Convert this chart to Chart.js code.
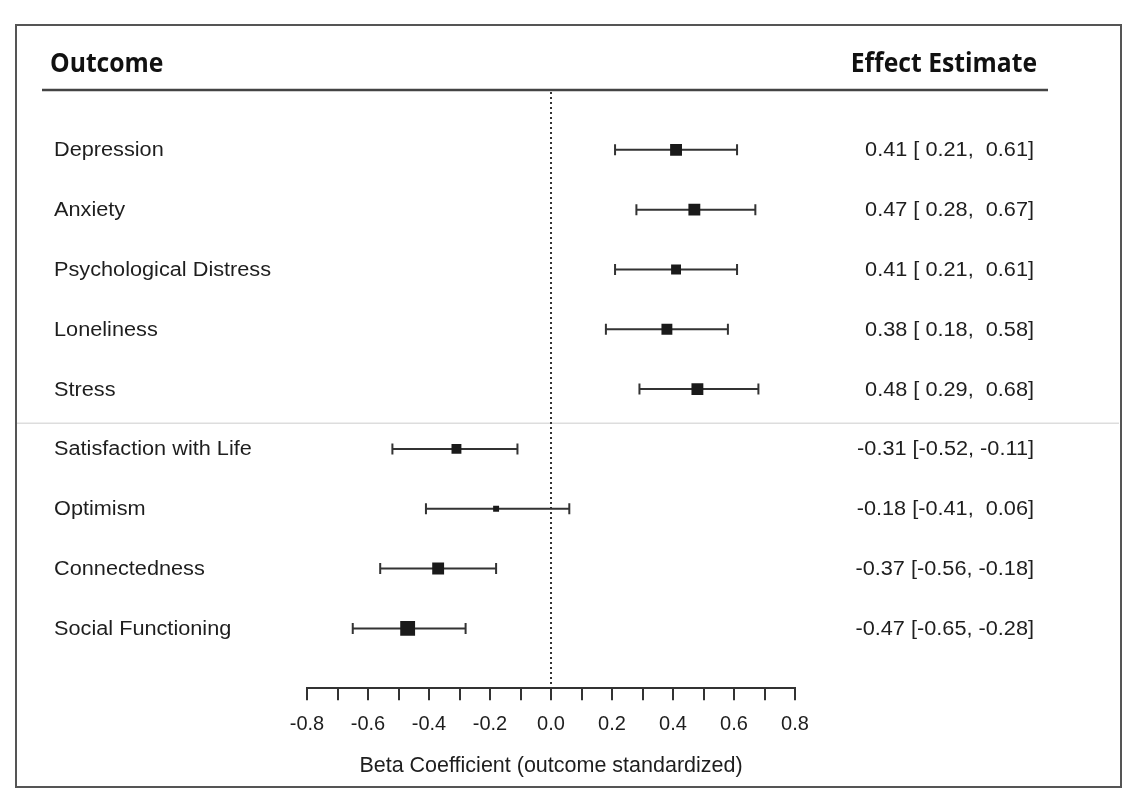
<!DOCTYPE html>
<html>
<head>
<meta charset="utf-8">
<script src="https://cdn.jsdelivr.net/npm/chart.js@4.4.1/dist/chart.umd.min.js"></script>
<style>
  html, body { margin: 0; padding: 0; background: #fff; }
  #wrap { position: relative; width: 1141px; height: 810px; }
  #frame { position: absolute; left: 15px; top: 24px; width: 1103px; height: 760px; border: 2px solid #555; pointer-events: none; }
  canvas { position: absolute; left: 0; top: 0; }
</style>
</head>
<body>
<div id="wrap">
  <canvas id="forest" width="1141" height="810"></canvas>
  <div id="frame"></div>
</div>
<script>
var outcomes = ["Depression", "Anxiety", "Psychological Distress", "Loneliness", "Stress",
                "Satisfaction with Life", "Optimism", "Connectedness", "Social Functioning"]
var estimate = [0.41, 0.47, 0.41, 0.38, 0.48, -0.31, -0.18, -0.37, -0.47]
var lower    = [0.21, 0.28, 0.21, 0.18, 0.29, -0.52, -0.41, -0.56, -0.65]
var upper    = [0.61, 0.67, 0.61, 0.58, 0.68, -0.11, 0.06, -0.18, -0.28]
// relative study weight, drives the box size
var weight   = [12, 12, 10, 11, 12, 10, 6, 12, 15]
var xTicks   = [-0.8, -0.6, -0.4, -0.2, 0.0, 0.2, 0.4, 0.6, 0.8]

var ink = "#1e1e1e"
var sans = "'Liberation Sans', Arial, sans-serif"
var labelFont = "20px " + sans
var headFont = "bold 26px 'Open Sans', sans-serif"

function pad5(v) {
  var s = v.toFixed(2)
  while (s.length < 5) s = " " + s
  return s
}

// text drawn a little wider than the font, like the source image
function wideText(ctx, txt, x, y, sx) {
  ctx.save()
  ctx.translate(x, y)
  ctx.scale(sx, 1)
  ctx.fillText(txt, 0, 0)
  ctx.restore()
}

var points = []
for (var i = 0; i < outcomes.length; i++) {
  points.push({ x: estimate[i], y: i + 1 })
}

var forestPlugin = {
  id: "forest",
  beforeDatasetsDraw: function(chart) {
    var ctx = chart.ctx
    var xs = chart.scales.x, ys = chart.scales.y
    var area = chart.chartArea
    ctx.save()

    // header
    ctx.fillStyle = "#111"
    ctx.font = headFont
    ctx.textBaseline = "alphabetic"
    ctx.textAlign = "left"
    wideText(ctx, "Outcome", 50, 72, 0.95)
    ctx.textAlign = "right"
    wideText(ctx, "Effect Estimate", 1037, 72, 0.95)
    ctx.strokeStyle = "#444"
    ctx.lineWidth = 2.5
    ctx.beginPath()
    ctx.moveTo(42, 90)
    ctx.lineTo(1048, 90)
    ctx.stroke()

    // separator between the two outcome groups
    var sepY = ys.getPixelForValue(5.57)
    ctx.strokeStyle = "#ddd"
    ctx.lineWidth = 1.5
    ctx.beginPath()
    ctx.moveTo(16, sepY)
    ctx.lineTo(1119, sepY)
    ctx.stroke()

    // null line
    var x0 = xs.getPixelForValue(0)
    ctx.strokeStyle = "#333"
    ctx.lineWidth = 2
    ctx.setLineDash([2, 3])
    ctx.beginPath()
    ctx.moveTo(x0, area.top + 2)
    ctx.lineTo(x0, area.bottom)
    ctx.stroke()
    ctx.setLineDash([])

    // confidence intervals
    ctx.strokeStyle = "#333"
    ctx.lineWidth = 2
    for (var i = 0; i < outcomes.length; i++) {
      var y = ys.getPixelForValue(i + 1)
      var xl = xs.getPixelForValue(lower[i])
      var xu = xs.getPixelForValue(upper[i])
      ctx.beginPath()
      ctx.moveTo(xl, y); ctx.lineTo(xu, y)
      ctx.moveTo(xl, y - 5.5); ctx.lineTo(xl, y + 5.5)
      ctx.moveTo(xu, y - 5.5); ctx.lineTo(xu, y + 5.5)
      ctx.stroke()
    }

    // row labels and effect text
    ctx.fillStyle = ink
    ctx.font = labelFont
    ctx.textBaseline = "middle"
    for (var i = 0; i < outcomes.length; i++) {
      var y = ys.getPixelForValue(i + 1) + 1
      ctx.textAlign = "left"
      wideText(ctx, outcomes[i], 54, y, 1.085)
      ctx.textAlign = "right"
      wideText(ctx, estimate[i].toFixed(2) + " [" + pad5(lower[i]) + ", " + pad5(upper[i]) + "]", 1034, y, 1.085)
    }
    ctx.restore()
  }
}

var chart = new Chart(document.getElementById("forest").getContext("2d"), {
  type: "scatter",
  data: {
    datasets: [{
      data: points,
      pointStyle: "rect",
      pointRadius: weight.map(function(w) { return w * 0.7 }),
      backgroundColor: "#1a1a1a",
      borderColor: "#1a1a1a",
      borderWidth: 0
    }]
  },
  options: {
    responsive: false,
    animation: false,
    layout: { padding: { left: 307, right: 346, top: 90, bottom: 27 } },
    plugins: { legend: { display: false }, tooltip: { enabled: false } },
    scales: {
      x: {
        type: "linear",
        min: -0.8, max: 0.8,
        afterBuildTicks: function(axis) {
          var t = []
          for (var k = -8; k <= 8; k++) t.push({ value: k / 10 })
          axis.ticks = t
        },
        ticks: {
          autoSkip: false,
          maxRotation: 0,
          padding: 12,
          color: ink,
          font: { family: sans, size: 20 },
          callback: function(v) {
            var hit = xTicks.filter(function(t) { return Math.abs(t - v) < 1e-6 })
            return hit.length ? hit[0].toFixed(1) : ""
          }
        },
        grid: { drawOnChartArea: false, drawTicks: true, tickLength: 12, color: "#333", lineWidth: 2 },
        border: { display: true, color: "#333", width: 2 },
        title: {
          display: true,
          text: "Beta Coefficient (outcome standardized)",
          color: ink,
          font: { family: sans, size: 21.5 },
          padding: { top: 5, bottom: 4 }
        }
      },
      y: {
        type: "linear",
        display: false,
        reverse: true,
        min: 0, max: 10
      }
    }
  },
  plugins: [forestPlugin]
})
</script>
</body>
</html>
